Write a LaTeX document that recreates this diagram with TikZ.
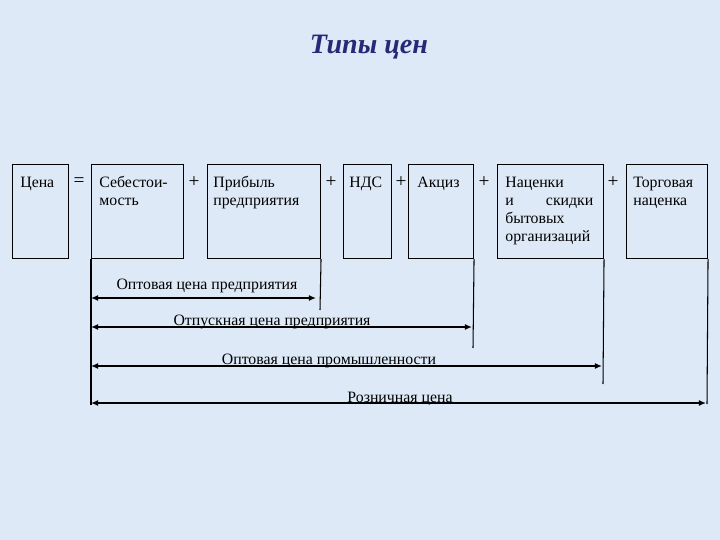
\documentclass[tikz,border=0pt]{standalone}
\usepackage{fontspec}
\setmainfont{Liberation Serif}
\usepackage{xcolor}
\usetikzlibrary{positioning,arrows.meta,calc}
\definecolor{pagebg}{RGB}{221,233,246}
\definecolor{titleblue}{RGB}{40,40,118}
\tikzset{
  pricebox/.style={draw=black, line width=0.6pt, anchor=north west,
                   minimum height=1.88cm, inner sep=0pt},
  boxtxt/.style={anchor=north west, inner sep=0pt, align=left,
                 font=\fontsize{9}{10.4}\selectfont},
  sign/.style={inner sep=0pt, font=\fontsize{11}{12}\selectfont},
  span/.style={{Latex[length=4pt,width=3.4pt]}-{Latex[length=4pt,width=3.4pt]}, line width=1.1pt},
  tick/.style={line width=0.6pt},
  lbl/.style={anchor=base, inner sep=0pt, font=\fontsize{9}{10.2}\selectfont}
}

\begin{document}
\begin{tikzpicture}[x=0.02cm, y=-0.02cm]
        \fill[pagebg] (0,0) rectangle (720,540);
        \node[font=\fontsize{16}{18}\selectfont\bfseries\itshape, text=titleblue] (title) at (369,47) {Типы цен};

        \node[pricebox, minimum width=1.12cm] (cena) at (12,164) {};
        \node[pricebox, minimum width=1.84cm] (sebest) at (91,164) {};
        \node[pricebox, minimum width=2.26cm] (pribyl) at (207,164) {};
        \node[pricebox, minimum width=0.96cm] (nds) at (343,164) {};
        \node[pricebox, minimum width=1.30cm] (akciz) at (408,164) {};
        \node[pricebox, minimum width=2.12cm] (nacenki) at (497,164) {};
        \node[pricebox, minimum width=1.62cm] (torg) at (626,164) {};

        \node[boxtxt] (tcena) at ($(cena.north west)+(8,10)$) {\strut Цена};
        \node[boxtxt] (tsebest) at ($(sebest.north west)+(8,10)$) {\strut Себестои-\\мость};
        \node[boxtxt] (tpribyl) at ($(pribyl.north west)+(6,10)$) {\strut Прибыль\\предприятия};
        \node[boxtxt] (tnds) at ($(nds.north west)+(6,10)$) {\strut НДС};
        \node[boxtxt] (takciz) at ($(akciz.north west)+(9,10)$) {\strut Акциз};
        \node[boxtxt, text width=1.76cm] (tnacenki) at ($(nacenki.north west)+(8,10)$)
          {\strut Наценки\\и\hfill скидки\\бытовых\\организаций};
        \node[boxtxt] (ttorg) at ($(torg.north west)+(7,10)$) {\strut Торговая\\наценка};

        \node[sign] (eq) at (79,182) {=};
        \node[sign] (p1) at (194,182) {+};
        \node[sign] (p2) at (331,182) {+};
        \node[sign] (p3) at (401,182) {+};
        \node[sign] (p4) at (484,182) {+};
        \node[sign] (p5) at (613,182) {+};

        \coordinate (lend) at (91,405);
        \coordinate (e1) at (320,310);
        \coordinate (e2) at (473,348);
        \coordinate (e3) at (603,384);
        \coordinate (e4) at (707,404);
        \draw[tick] (sebest.south west) -- (lend);
        \draw[tick] (pribyl.south east) -- (e1);
        \draw[tick] (akciz.south east) -- (e2);
        \draw[tick] (nacenki.south east) -- (e3);
        \draw[tick] (torg.south east) -- (e4);

        \node[lbl] (l1) at (207,290) {Оптовая цена предприятия};
        \node[lbl] (l2) at (272,326) {Отпускная цена предприятия};
        \node[lbl] (l3) at (329,365) {Оптовая цена промышленности};
        \node[lbl] (l4) at (400,402) {Розничная цена};

        \coordinate (a1) at (91,298); \coordinate (b1) at (316,298);
        \coordinate (a2) at (91,327); \coordinate (b2) at (472,327);
        \coordinate (a3) at (91,366); \coordinate (b3) at (602,366);
        \coordinate (a4) at (91,403); \coordinate (b4) at (706,403);
        \draw[span] (a1) -- (b1);
        \draw[span] (a2) -- (b2);
        \draw[span] (a3) -- (b3);
        \draw[span] (a4) -- (b4);
      \end{tikzpicture}
\end{document}
